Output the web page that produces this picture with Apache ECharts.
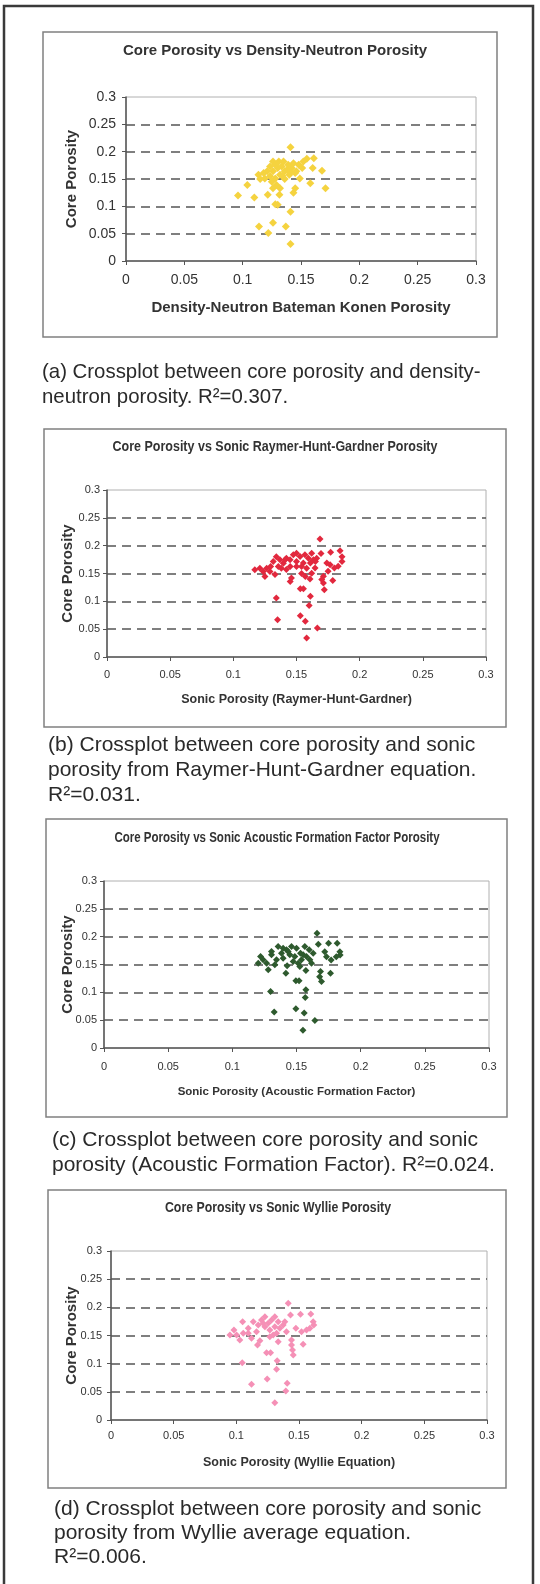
<!DOCTYPE html>
<html><head><meta charset="utf-8">
<script src="https://cdn.jsdelivr.net/npm/echarts@6/dist/echarts.min.js"></script>
<style>html,body{margin:0;padding:0;background:#fff}#c{width:540px;height:1584px}</style>
</head><body><div id="c"></div>
<script>
// ---------- data ----------
const axisMin = 0, axisMax = 0.3, axisStep = 0.05;
const yAxisName = 'Core Porosity';
const chartTitles = [
  'Core Porosity vs Density-Neutron Porosity',
  'Core Porosity vs Sonic Raymer-Hunt-Gardner Porosity',
  'Core Porosity vs Sonic Acoustic Formation Factor Porosity',
  'Core Porosity vs Sonic Wyllie Porosity'
];
const xAxisNames = [
  'Density-Neutron Bateman Konen Porosity',
  'Sonic Porosity (Raymer-Hunt-Gardner)',
  'Sonic Porosity (Acoustic Formation Factor)',
  'Sonic Porosity (Wyllie Equation)'
];
const captionA = ['(a) Crossplot between core porosity and density-', 'neutron porosity. R\u00B2=0.307.'];
const captionB = ['(b) Crossplot between core porosity and sonic', 'porosity from Raymer-Hunt-Gardner equation.', 'R\u00B2=0.031.'];
const captionC = ['(c) Crossplot between core porosity and sonic', 'porosity (Acoustic Formation Factor). R\u00B2=0.024.'];
const captionD = ['(d) Crossplot between core porosity and sonic', 'porosity from Wyllie average equation.', 'R\u00B2=0.006.'];

// [x, core porosity]
const densityNeutronPoints = [
  [0.141,0.208],[0.096,0.120],[0.104,0.139],[0.110,0.116],[0.1215,0.121],[0.114,0.063],
  [0.122,0.051],[0.126,0.070],[0.137,0.063],[0.141,0.031],[0.141,0.090],[0.130,0.103],
  [0.128,0.104],[0.1315,0.121],[0.1435,0.125],[0.145,0.133],[0.158,0.142],[0.171,0.133],
  [0.168,0.165],[0.160,0.170],[0.161,0.188],[0.155,0.187],[0.149,0.151],
  [0.1135,0.158],[0.115,0.150],[0.118,0.161],[0.121,0.164],[0.1235,0.173],[0.126,0.182],
  [0.131,0.182],[0.135,0.182],[0.139,0.176],[0.1435,0.179],[0.148,0.176],[0.152,0.182],
  [0.146,0.164],[0.141,0.164],[0.136,0.164],[0.132,0.158],[0.128,0.151],[0.125,0.145],
  [0.129,0.139],[0.132,0.133],[0.126,0.164],[0.130,0.170],[0.1335,0.173],[0.138,0.167],
  [0.142,0.170],[0.145,0.161],[0.1235,0.155],[0.119,0.151],[0.126,0.133],[0.134,0.156],
  [0.140,0.158],[0.151,0.170],[0.128,0.176],[0.136,0.150]
];
const raymerHuntGardnerPoints = [
  [0.1686,0.212],[0.1694,0.186],[0.177,0.188],[0.1845,0.191],[0.186,0.180],[0.186,0.1715],
  [0.183,0.163],[0.180,0.160],[0.1766,0.1656],[0.174,0.169],[0.175,0.154],[0.1787,0.1375],
  [0.1713,0.145],[0.1713,0.133],[0.172,0.121],[0.170,0.139],[0.134,0.106],[0.135,0.067],
  [0.153,0.074],[0.157,0.064],[0.1665,0.052],[0.158,0.034],[0.160,0.0926],[0.161,0.109],
  [0.153,0.1225],[0.1555,0.1225],[0.145,0.1357],[0.146,0.1417],[0.1607,0.140],[0.1647,0.160],
  [0.117,0.1566],[0.121,0.1596],[0.1237,0.1536],[0.1264,0.1596],[0.125,0.1446],[0.129,0.1536],
  [0.133,0.148],[0.134,0.180],[0.1356,0.1626],[0.1396,0.1686],[0.142,0.1775],[0.1475,0.1835],
  [0.150,0.1865],[0.1528,0.1805],[0.1567,0.1835],[0.1594,0.1775],[0.1634,0.1745],[0.166,0.1775],
  [0.1449,0.1745],[0.141,0.1745],[0.150,0.1715],[0.1554,0.169],[0.158,0.1596],[0.154,0.1626],
  [0.154,0.150],[0.150,0.1626],[0.142,0.157],[0.145,0.1626],[0.138,0.1596],[0.1295,0.1626],
  [0.1316,0.1716],[0.1369,0.1745],[0.162,0.1865],[0.161,0.169],[0.165,0.1715],[0.157,0.1446],
  [0.162,0.1506]
];
const acousticFormationFactorPoints = [
  [0.166,0.206],[0.167,0.1865],[0.175,0.188],[0.1817,0.188],[0.1838,0.173],[0.184,0.167],
  [0.181,0.164],[0.177,0.158],[0.1734,0.164],[0.172,0.173],[0.1765,0.1345],[0.1687,0.1375],
  [0.1695,0.1195],[0.168,0.128],[0.1298,0.1016],[0.1326,0.0646],[0.1495,0.0705],[0.156,0.0628],
  [0.1643,0.0496],[0.155,0.0317],[0.1568,0.0909],[0.1573,0.1046],[0.1495,0.1207],[0.152,0.1207],
  [0.1417,0.1345],[0.1427,0.1476],[0.1573,0.1393],[0.1617,0.1524],
  [0.1202,0.1524],[0.122,0.1644],[0.124,0.1584],[0.1267,0.1524],[0.128,0.1405],[0.1305,0.1673],
  [0.1331,0.1494],[0.1357,0.1823],[0.1383,0.1703],[0.1396,0.1614],[0.1422,0.1763],[0.1461,0.1823],
  [0.150,0.1793],[0.1531,0.1703],[0.1565,0.1823],[0.1599,0.1763],[0.163,0.1703],[0.1552,0.1673],
  [0.1487,0.1644],[0.1448,0.1673],[0.1513,0.1524],[0.1474,0.1554],[0.1578,0.1644],[0.1539,0.1584],
  [0.1344,0.1584],[0.1305,0.1733],[0.1396,0.1793],[0.1435,0.1733],[0.1604,0.1584],[0.1526,0.1464]
];
const wylliePoints = [
  [0.1414,0.2071],[0.1432,0.1864],[0.1512,0.1876],[0.1594,0.1882],[0.1613,0.1746],[0.1618,0.1686],
  [0.1587,0.1627],[0.156,0.1598],[0.152,0.1568],[0.1475,0.1627],[0.1533,0.1343],[0.144,0.142],
  [0.144,0.133],[0.1454,0.1154],[0.1448,0.1243],[0.1047,0.1018],[0.1121,0.0633],[0.1246,0.0728],
  [0.1406,0.0651],[0.1395,0.0515],[0.1307,0.0308],[0.1321,0.0899],[0.1326,0.1053],[0.1241,0.1195],
  [0.1273,0.1195],[0.1169,0.1331],[0.1188,0.1408],[0.1334,0.139],[0.140,0.1568],
  [0.0949,0.1509],[0.0981,0.1598],[0.1002,0.1509],[0.1028,0.142],[0.1055,0.1538],[0.105,0.1746],
  [0.1095,0.1627],[0.1121,0.145],[0.1135,0.1746],[0.1175,0.1686],[0.1201,0.1775],[0.1228,0.1834],
  [0.1254,0.1716],[0.1281,0.1775],[0.1307,0.1834],[0.1334,0.1746],[0.1374,0.1686],[0.1307,0.1657],
  [0.1267,0.1598],[0.1267,0.1479],[0.1321,0.1538],[0.1228,0.1657],[0.1161,0.1568],[0.1347,0.1627],
  [0.1387,0.1746],[0.1214,0.1716],[0.1095,0.1538],[0.1294,0.1509]
];

// ---------- layout / style ----------
const ARIAL = "'Liberation Sans',Arial,sans-serif";
const TXT = '#333';
const panels = [
  { data: densityNeutronPoints, color: '#F5D33F', size: 8, grid: {left:126, top:97, width:350, height:164},
    box: [43,32,454,305], title: [275,51], titleScale: 1,
    labelSize: 14, xNameSize: 15, xNameGap: 39.5, yNameGap: 46.5, xMargin: 12, yMargin: 10,
    caption: captionA, capX: 42, capY: [372, 397], capSize: 20.4 },
  { data: raymerHuntGardnerPoints, color: '#E2283E', size: 7, grid: {left:107, top:490, width:379, height:167},
    box: [44,429,462,298], title: [275,447], titleScale: 0.833,
    labelSize: 11, xNameSize: 12.5, xNameGap: 36.5, yNameGap: 32, xMargin: 12, yMargin: 7,
    caption: captionB, capX: 48, capY: [745, 770, 795], capSize: 21 },
  { data: acousticFormationFactorPoints, color: '#2E5A2E', size: 7, grid: {left:104, top:881, width:385, height:167},
    box: [46,819,461,298], title: [277,838], titleScale: 0.768,
    labelSize: 11, xNameSize: 11.5, xNameGap: 38, yNameGap: 28.5, xMargin: 13.5, yMargin: 7,
    caption: captionC, capX: 52, capY: [1140, 1165], capSize: 21 },
  { data: wylliePoints, color: '#F590B6', size: 7, grid: {left:111, top:1251, width:376, height:169},
    box: [48,1190,458,298], title: [278,1208], titleScale: 0.82,
    labelSize: 11, xNameSize: 12.5, xNameGap: 36, yNameGap: 31.8, xMargin: 10.5, yMargin: 9,
    caption: captionD, capX: 54, capY: [1509, 1533, 1557], capSize: 21 }
];

const grids = [], xAxes = [], yAxes = [], series = [], graphics = [];

// outer page frame
graphics.push({ type: 'polyline', shape: { points: [[4,1584],[4,6],[533,6],[533,1584]] },
  style: { stroke: '#3a3a3a', lineWidth: 2.5, fill: null }, silent: true });

panels.forEach((p, i) => {
  grids.push(Object.assign({ show: true, borderColor: '#b0b0b0', borderWidth: 1, backgroundColor: 'transparent', containLabel: false }, p.grid));
  const common = {
    type: 'value', gridIndex: i, min: axisMin, max: axisMax, interval: axisStep,
    axisLine: { show: true, onZero: false, lineStyle: { color: '#555', width: 1.5 } },
    axisTick: { show: true, length: 4, lineStyle: { color: '#555', width: 1 } },
    nameLocation: 'middle', nameMoveOverlap: false
  };
  xAxes.push(Object.assign({}, common, {
    name: xAxisNames[i], nameGap: p.xNameGap,
    nameTextStyle: { fontFamily: ARIAL, fontWeight: 'bold', fontSize: p.xNameSize, color: TXT },
    axisLabel: { color: TXT, fontFamily: ARIAL, fontSize: p.labelSize, margin: p.xMargin },
    splitLine: { show: false }
  }));
  yAxes.push(Object.assign({}, common, {
    name: yAxisName, nameGap: p.yNameGap, nameRotate: 90,
    nameTextStyle: { fontFamily: ARIAL, fontWeight: 'bold', fontSize: 15, color: TXT },
    axisLabel: { color: TXT, fontFamily: ARIAL, fontSize: p.labelSize, margin: p.yMargin },
    splitLine: { show: true, showMinLine: false, showMaxLine: false,
      lineStyle: { color: '#555', width: 1.5, type: [9, 6] } }
  }));
  series.push({ type: 'scatter', xAxisIndex: i, yAxisIndex: i, data: p.data, symbol: 'diamond',
    symbolSize: p.size, itemStyle: { color: p.color, opacity: 1 }, silent: true, animation: false });

  graphics.push({ type: 'rect', shape: { x: p.box[0], y: p.box[1], width: p.box[2], height: p.box[3] },
    style: { stroke: '#808080', lineWidth: 1.5, fill: null }, silent: true });
  graphics.push({ type: 'text', x: p.title[0], y: p.title[1], scaleX: p.titleScale,
    style: { text: chartTitles[i], font: 'bold 15px ' + ARIAL, fill: TXT, align: 'center', verticalAlign: 'middle',
      textAlign: 'center', textVerticalAlign: 'middle' }, silent: true });
  p.caption.forEach((line, k) => {
    graphics.push({ type: 'text', x: p.capX, y: p.capY[k],
      style: { text: line, font: p.capSize + 'px ' + ARIAL, fill: '#2a2a2a', align: 'left', verticalAlign: 'middle',
        textAlign: 'left', textVerticalAlign: 'middle' }, silent: true });
  });
});

const chart = echarts.init(document.getElementById('c'), null, { renderer: 'canvas' });
chart.setOption({
  backgroundColor: '#fff', animation: false,
  grid: grids, xAxis: xAxes, yAxis: yAxes, series: series, graphic: graphics
});
</script></body></html>
